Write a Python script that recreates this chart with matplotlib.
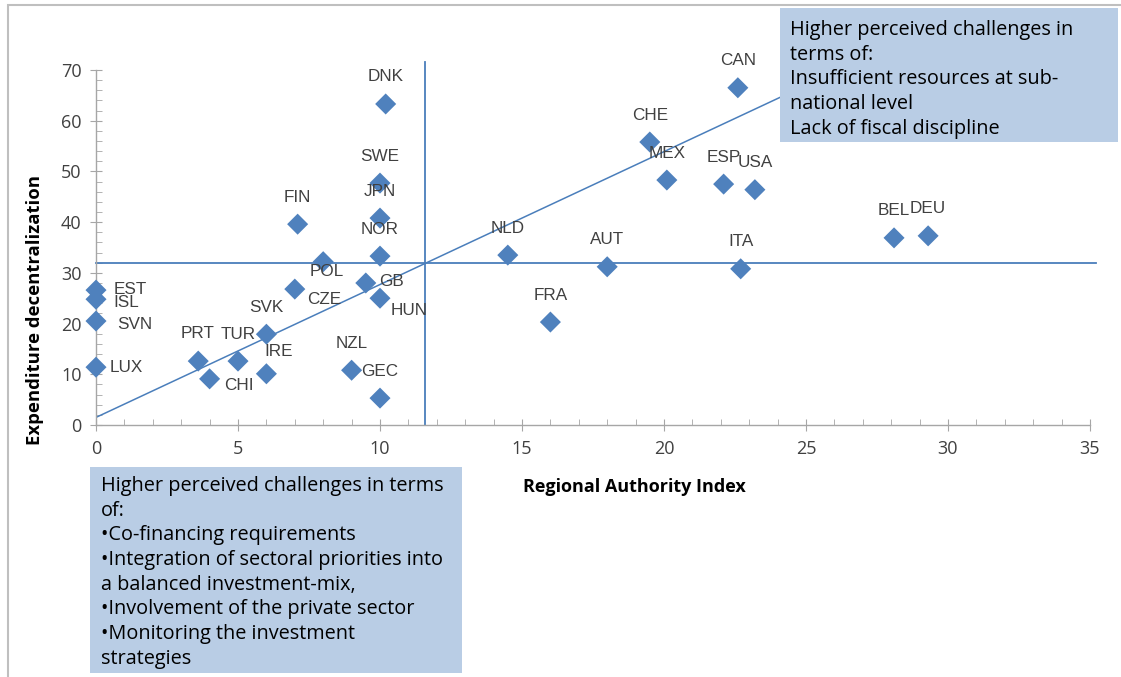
import numpy as np
import matplotlib.pyplot as plt
from matplotlib.patches import Rectangle
from matplotlib.ticker import MultipleLocator

# data
countries = ['EST', 'ISL', 'SVN', 'LUX', 'PRT', 'CHI', 'TUR', 'SVK', 'IRE', 'CZE',
             'FIN', 'POL', 'GB', 'HUN', 'NZL', 'GEC', 'NOR', 'JPN', 'SWE', 'DNK',
             'NLD', 'AUT', 'FRA', 'CHE', 'MEX', 'ESP', 'USA', 'CAN', 'ITA', 'BEL', 'DEU']
rai = [0.0, 0.0, 0.0, 0.0, 3.6, 4.0, 5.0, 6.0, 6.0, 7.0,
       7.1, 8.0, 9.5, 10.0, 9.0, 10.0, 10.0, 10.0, 10.0, 10.2,
       14.5, 18.0, 16.0, 19.5, 20.1, 22.1, 23.2, 22.6, 22.7, 28.1, 29.3]
exp_dec = [26.6, 24.8, 20.5, 11.4, 12.6, 9.1, 12.6, 17.9, 10.1, 26.8,
           39.6, 32.2, 28.0, 25.0, 10.8, 5.3, 33.3, 40.8, 47.7, 63.3,
           33.5, 31.2, 20.3, 55.8, 48.3, 47.5, 46.4, 66.5, 30.8, 36.9, 37.3]

# reference lines
x_split = 11.6
y_split = 32.0
trend_x = [0.0, 26.0]
trend_y = [1.5, 1.5 + 2.62 * 26.0]

box_top = ('Higher perceived challenges in\nterms of:\n'
           'Insufficient resources at sub-\nnational level\nLack of fiscal discipline')
box_bottom = ('Higher perceived challenges in terms\nof:\n'
              '\u2022Co-financing requirements\n'
              '\u2022Integration of sectoral priorities into\n'
              'a balanced investment-mix,\n'
              '\u2022Involvement of the private sector\n'
              '\u2022Monitoring the investment\nstrategies')

# label offsets in pixels (default: centred above the marker)
label_off = {'EST': (18, 1, 'left'), 'ISL': (17, -3, 'left'), 'SVN': (21, -3, 'left'),
             'LUX': (14, 0, 'left'), 'CHI': (29, -7, 'center'), 'IRE': (12, 22, 'center'),
             'CZE': (29, -10, 'center'), 'POL': (4, -10, 'center'), 'GB': (26, 1, 'center'),
             'HUN': (29, -12, 'center'), 'PRT': (-1, 28, 'center')}

blue = '#4F81BD'
line_blue = '#4A7EBB'
box_col = '#B9CDE5'
txt_col = '#404040'

fig = plt.figure(figsize=(11.21, 6.77), dpi=100)
ax = fig.add_axes([96/1121, 1-425/677, (1090-96)/1121, (425-70)/677])

ax.plot(trend_x, trend_y, color=line_blue, linewidth=1.1, zorder=2)
ax.plot([x_split, x_split], [0, 71.5], color=line_blue, linewidth=1.3, clip_on=False, zorder=2)
ax.plot([0, 35.2], [y_split, y_split], color=line_blue, linewidth=1.3, clip_on=False, zorder=2)

ax.scatter(rai, exp_dec, marker='D', s=115, color=blue, edgecolors='none', zorder=3, clip_on=False)

for name, x, y in zip(countries, rai, exp_dec):
    dx, dy, ha = label_off.get(name, (0, 27, 'center'))
    ax.annotate(name, (x, y), xytext=(dx, dy), textcoords='offset pixels',
                ha=ha, va='center', fontsize=12.3, color=txt_col,
                family='Liberation Sans', zorder=4)

ax.set_xlim(0, 35)
ax.set_ylim(0, 70)
ax.xaxis.set_major_locator(MultipleLocator(5))
ax.xaxis.set_minor_locator(MultipleLocator(1))
ax.yaxis.set_major_locator(MultipleLocator(10))
ax.yaxis.set_minor_locator(MultipleLocator(2))

for s in ['top', 'right']:
    ax.spines[s].set_visible(False)
for s in ['left', 'bottom']:
    ax.spines[s].set_color('#A6A6A6')
    ax.spines[s].set_linewidth(1.0)

ax.tick_params(which='major', direction='inout', length=9, color='#A6A6A6',
               labelsize=13, labelcolor=txt_col, pad=6)
ax.tick_params(which='minor', direction='in', length=4, color='#A6A6A6')
for lab in ax.get_xticklabels() + ax.get_yticklabels():
    lab.set_family('Open Sans')

ax.set_ylabel('Expenditure decentralization', fontsize=13.3, fontweight='bold',
              family='Open Sans', color='black')
ax.yaxis.set_label_coords(-52/994, (425-310)/355)
ax.text(634/1121, 1-487/677, 'Regional Authority Index', transform=fig.transFigure,
        ha='center', va='center', fontsize=13, fontweight='bold', family='Open Sans')

# annotation boxes
fig.patches.append(Rectangle((780/1121, 1-142/677), (1118-780)/1121, (142-8)/677,
                             transform=fig.transFigure, facecolor=box_col,
                             edgecolor='none', zorder=5))
fig.text(790/1121, 1-20/677, box_top, ha='left', va='top', fontsize=14.3,
         family='Open Sans', color='black', linespacing=1.31, zorder=6)

fig.patches.append(Rectangle((90/1121, 1-673/677), (462-90)/1121, (673-467)/677,
                             transform=fig.transFigure, facecolor=box_col,
                             edgecolor='none', zorder=5))
fig.text(101/1121, 1-476/677, box_bottom, ha='left', va='top', fontsize=14.3,
         family='Open Sans', color='black', linespacing=1.31, zorder=6)

# outer frame of the chart area
fig.patches.append(Rectangle((8/1121, -0.01), 1.1, 1-5/677 + 0.01, transform=fig.transFigure,
                             facecolor='none', edgecolor='#BFBFBF', linewidth=1.5, zorder=0))

fig.savefig('out.png', dpi=100)
